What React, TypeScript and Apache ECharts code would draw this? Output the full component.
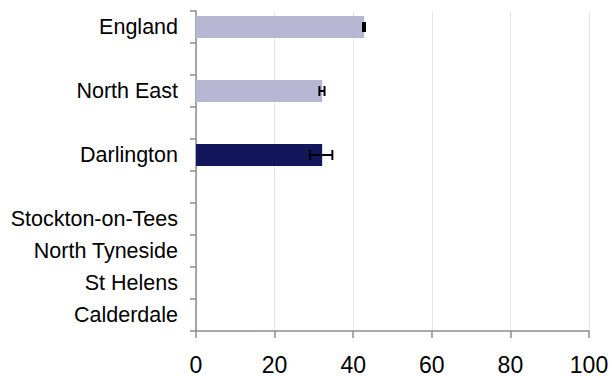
import React, { useEffect, useRef } from "react";
import * as echarts from "echarts";

const categories = [
  "England",
  "",
  "North East",
  "",
  "Darlington",
  "",
  "Stockton-on-Tees",
  "North Tyneside",
  "St Helens",
  "Calderdale",
];
const values = [42.8, null, 32.1, null, 32.1, null, 0, 0, 0, 0];
const errLow = [42.5, null, 31.4, null, 29.0, null, null, null, null, null];
const errHigh = [43.0, null, 32.7, null, 34.7, null, null, null, null, null];
const barColors = ["#b7b7d3", "#b7b7d3", "#b7b7d3", "#b7b7d3", "#12175c", "#b7b7d3", "#b7b7d3", "#b7b7d3", "#b7b7d3", "#b7b7d3"];
const xTicks = { min: 0, max: 100, interval: 20 };

export default function App() {
  const ref = useRef<HTMLDivElement>(null);
  useEffect(() => {
    if (!ref.current) return;
    const chart = echarts.init(ref.current, null, { renderer: "svg" });
    const errData = categories
      .map((_, i) => (errLow[i] == null ? null : [errLow[i], errHigh[i], i]))
      .filter((d) => d !== null);
    chart.setOption({
      animation: false,
      textStyle: { fontFamily: "Liberation Sans, Arial, sans-serif" },
      grid: { left: 196, right: 23, top: 11, bottom: 43, containLabel: false },
      xAxis: {
        type: "value",
        min: xTicks.min,
        max: xTicks.max,
        interval: xTicks.interval,
        axisLine: { show: true, lineStyle: { color: "#8c8c8c", width: 1.5 } },
        axisTick: { show: true, length: 7, lineStyle: { color: "#8c8c8c", width: 1.5 } },
        axisLabel: { fontSize: 23, color: "#000", margin: 22 },
        splitLine: { show: true, lineStyle: { color: "#e6e6e6", width: 1 } },
      },
      yAxis: {
        type: "category",
        data: categories,
        inverse: true,
        axisLine: { show: true, lineStyle: { color: "#8c8c8c", width: 1.5 } },
        axisTick: { show: true, length: 6, lineStyle: { color: "#8c8c8c", width: 1.5 } },
        axisLabel: { fontSize: 21.5, color: "#000", margin: 18, interval: 0 },
        splitLine: { show: false },
      },
      series: [
        {
          type: "bar",
          barWidth: 22,
          data: values.map((v, i) => ({ value: v, itemStyle: { color: barColors[i] } })),
        },
        {
          type: "custom",
          data: errData,
          encode: { x: [0, 1], y: 2 },
          renderItem: (params: any, api: any) => {
            const lo = api.coord([api.value(0), api.value(2)]);
            const hi = api.coord([api.value(1), api.value(2)]);
            const h = 5;
            const style = { stroke: "#000", lineWidth: 2 };
            return {
              type: "group",
              children: [
                { type: "line", shape: { x1: lo[0], y1: lo[1], x2: hi[0], y2: hi[1] }, style },
                { type: "line", shape: { x1: lo[0], y1: lo[1] - h, x2: lo[0], y2: lo[1] + h }, style },
                { type: "line", shape: { x1: hi[0], y1: hi[1] - h, x2: hi[0], y2: hi[1] + h }, style },
              ],
            };
          },
          z: 5,
        },
      ],
    });
    return () => chart.dispose();
  }, []);
  return <div ref={ref} style={{ width: 612, height: 376, position: "absolute", left: 0, top: 0 }} />;
}
